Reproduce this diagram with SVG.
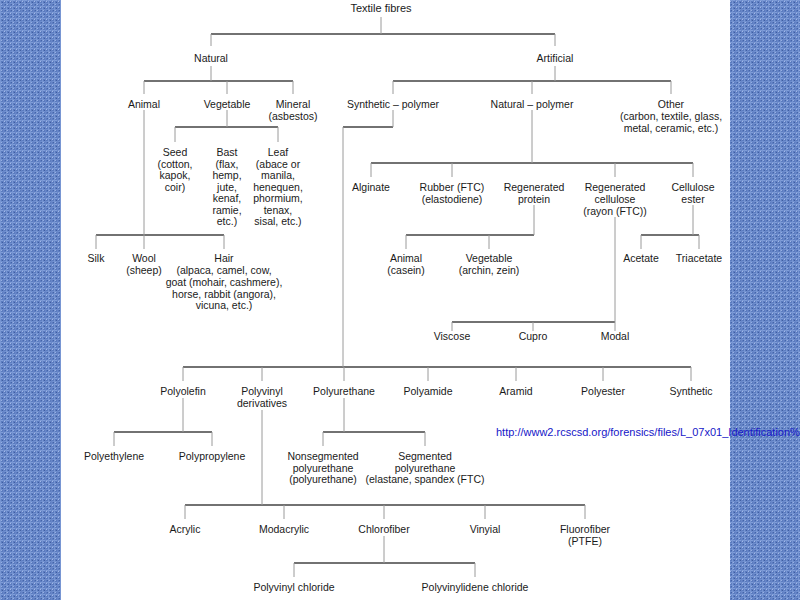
<svg xmlns="http://www.w3.org/2000/svg" width="800" height="600" viewBox="0 0 800 600">
<defs>
<pattern id="cloth" width="6" height="6" patternUnits="userSpaceOnUse">
<rect width="6" height="6" fill="#5b7cc0"/>
<rect x="0" y="0" width="6" height="1" fill="#7f9dd8"/>
<rect x="0" y="3" width="6" height="1" fill="#6f8fcf"/>
<rect x="0" y="0" width="1" height="6" fill="#7896d3"/>
<rect x="3" y="0" width="1" height="6" fill="#6886c8"/>
<rect x="2" y="2" width="1" height="1" fill="#3f5da0"/>
<rect x="5" y="4" width="1" height="1" fill="#4564a8"/>
<rect x="4" y="1" width="1" height="1" fill="#a3b9e6"/>
<rect x="1" y="4" width="1" height="1" fill="#98b0e2"/>
</pattern>
<style>
.t{font-family:"Liberation Sans",Arial,Helvetica,sans-serif;font-size:10.5px;fill:#1a1a1a;text-anchor:middle}
.h{stroke:#444;stroke-width:1.6;fill:none}
.v{stroke:#9a9a9a;stroke-width:1;fill:none}
.url{font-family:"Liberation Sans",Arial,sans-serif;font-size:11px;fill:#1616c8}
</style>
</defs>
<rect width="800" height="600" fill="#ffffff"/>
<rect x="0" y="0" width="61" height="600" fill="url(#cloth)"/>
<rect x="730" y="0" width="70" height="600" fill="url(#cloth)"/>

<g id="connectors">
<path class="h" d="M211 34H555M144 81H293M393 81H671M175 127H278M343 127H393M96 235H224M371 163H693M406 235H534M641 235H699M452 322H615M183 367H691M114 432H212M323 432H425M185 505H585M294 563H475"/>
<path class="v" d="M381 17V34M211 34V46M555 34V46M211 66V81M144 81V94M227 81V94M293 81V94M555 66V81M393 81V94M532 81V94M671 81V94M227 110V127M175 127V142M278 127V142M144 110V249M96 235V249M224 235V249M393 110V127M343 127V367M532 110V163M371 163V177M452 163V177M615 163V177M693 163V177M534 205V235M406 235V249M489 235V249M693 205V235M641 235V249M699 235V249M615 217V331M452 322V331M533 322V331M262 367V381M344 367V381M428 367V381M516 367V381M603 367V381M691 367V381M183 367V381M183 398V432M114 432V446M212 432V446M344 398V432M323 432V446M425 432V446M262 410V505M185 505V519M284 505V519M384 505V519M485 505V519M585 505V519M384 536V563M294 563V577M475 563V577"/>
</g>

<g id="textile-fibres"><text class="t" x="381" y="12" style="font-size:11px">Textile fibres</text></g>
<g id="natural"><text class="t" x="211" y="62">Natural</text></g>
<g id="artificial"><text class="t" x="555" y="62">Artificial</text></g>
<g id="animal"><text class="t" x="144" y="108">Animal</text></g>
<g id="vegetable"><text class="t" x="227" y="108">Vegetable</text></g>
<g id="mineral"><text class="t" x="293" y="108">Mineral</text><text class="t" x="293" y="120">(asbestos)</text></g>
<g id="synthetic-polymer"><text class="t" x="393" y="108">Synthetic – polymer</text></g>
<g id="natural-polymer"><text class="t" x="532" y="108">Natural – polymer</text></g>
<g id="other"><text class="t" x="671" y="108">Other</text><text class="t" x="671" y="120">(carbon, textile, glass,</text><text class="t" x="671" y="132">metal, ceramic, etc.)</text></g>

<g id="seed"><text class="t" x="175" y="156">Seed</text><text class="t" x="175" y="167.5">(cotton,</text><text class="t" x="175" y="179">kapok,</text><text class="t" x="175" y="190.5">coir)</text></g>
<g id="bast"><text class="t" x="227" y="156">Bast</text><text class="t" x="227" y="167.5">(flax,</text><text class="t" x="227" y="179">hemp,</text><text class="t" x="227" y="190.5">jute,</text><text class="t" x="227" y="202">kenaf,</text><text class="t" x="227" y="213.5">ramie,</text><text class="t" x="227" y="225">etc.)</text></g>
<g id="leaf"><text class="t" x="278" y="156">Leaf</text><text class="t" x="278" y="167.5">(abace or</text><text class="t" x="278" y="179">manila,</text><text class="t" x="278" y="190.5">henequen,</text><text class="t" x="278" y="202">phormium,</text><text class="t" x="278" y="213.5">tenax,</text><text class="t" x="278" y="225">sisal, etc.)</text></g>

<g id="silk"><text class="t" x="96" y="262">Silk</text></g>
<g id="wool"><text class="t" x="144" y="262">Wool</text><text class="t" x="144" y="274">(sheep)</text></g>
<g id="hair"><text class="t" x="224" y="262">Hair</text><text class="t" x="224" y="274">(alpaca, camel, cow,</text><text class="t" x="224" y="286">goat (mohair, cashmere),</text><text class="t" x="224" y="298">horse, rabbit (angora),</text><text class="t" x="224" y="309">vicuna, etc.)</text></g>

<g id="alginate"><text class="t" x="371" y="191">Alginate</text></g>
<g id="rubber"><text class="t" x="452" y="191">Rubber (FTC)</text><text class="t" x="452" y="203">(elastodiene)</text></g>
<g id="regenerated-protein"><text class="t" x="534" y="191">Regenerated</text><text class="t" x="534" y="203">protein</text></g>
<g id="regenerated-cellulose"><text class="t" x="615" y="191">Regenerated</text><text class="t" x="615" y="203">cellulose</text><text class="t" x="615" y="215">(rayon (FTC))</text></g>
<g id="cellulose-ester"><text class="t" x="693" y="191">Cellulose</text><text class="t" x="693" y="203">ester</text></g>

<g id="animal-casein"><text class="t" x="406" y="262">Animal</text><text class="t" x="406" y="274">(casein)</text></g>
<g id="vegetable-protein"><text class="t" x="489" y="262">Vegetable</text><text class="t" x="489" y="274">(archin, zein)</text></g>
<g id="acetate"><text class="t" x="641" y="262">Acetate</text></g>
<g id="triacetate"><text class="t" x="699" y="262">Triacetate</text></g>

<g id="viscose"><text class="t" x="452" y="340">Viscose</text></g>
<g id="cupro"><text class="t" x="533" y="340">Cupro</text></g>
<g id="modal"><text class="t" x="615" y="340">Modal</text></g>

<g id="polyolefin"><text class="t" x="183" y="395">Polyolefin</text></g>
<g id="polyvinyl"><text class="t" x="262" y="395">Polyvinyl</text><text class="t" x="262" y="407">derivatives</text></g>
<g id="polyurethane"><text class="t" x="344" y="395">Polyurethane</text></g>
<g id="polyamide"><text class="t" x="428" y="395">Polyamide</text></g>
<g id="aramid"><text class="t" x="516" y="395">Aramid</text></g>
<g id="polyester"><text class="t" x="603" y="395">Polyester</text></g>
<g id="synthetic"><text class="t" x="691" y="395">Synthetic</text></g>

<g id="polyethylene"><text class="t" x="114" y="460">Polyethylene</text></g>
<g id="polypropylene"><text class="t" x="212" y="460">Polypropylene</text></g>
<g id="nonsegmented"><text class="t" x="323" y="460">Nonsegmented</text><text class="t" x="323" y="471.5">polyurethane</text><text class="t" x="323" y="483">(polyurethane)</text></g>
<g id="segmented"><text class="t" x="425" y="460">Segmented</text><text class="t" x="425" y="471.5">polyurethane</text><text class="t" x="425" y="483">(elastane, spandex (FTC)</text></g>

<g id="acrylic"><text class="t" x="185" y="533">Acrylic</text></g>
<g id="modacrylic"><text class="t" x="284" y="533">Modacrylic</text></g>
<g id="chlorofiber"><text class="t" x="384" y="533">Chlorofiber</text></g>
<g id="vinyial"><text class="t" x="485" y="533">Vinyial</text></g>
<g id="fluorofiber"><text class="t" x="585" y="533">Fluorofiber</text><text class="t" x="585" y="545">(PTFE)</text></g>

<g id="pvc"><text class="t" x="294" y="591">Polyvinyl chloride</text></g>
<g id="pvdc"><text class="t" x="475" y="591">Polyvinylidene chloride</text></g>

<g id="url"><text class="url" x="496" y="436">http://www2.rcscsd.org/forensics/files/L_07x01_Identification%</text></g>
</svg>
